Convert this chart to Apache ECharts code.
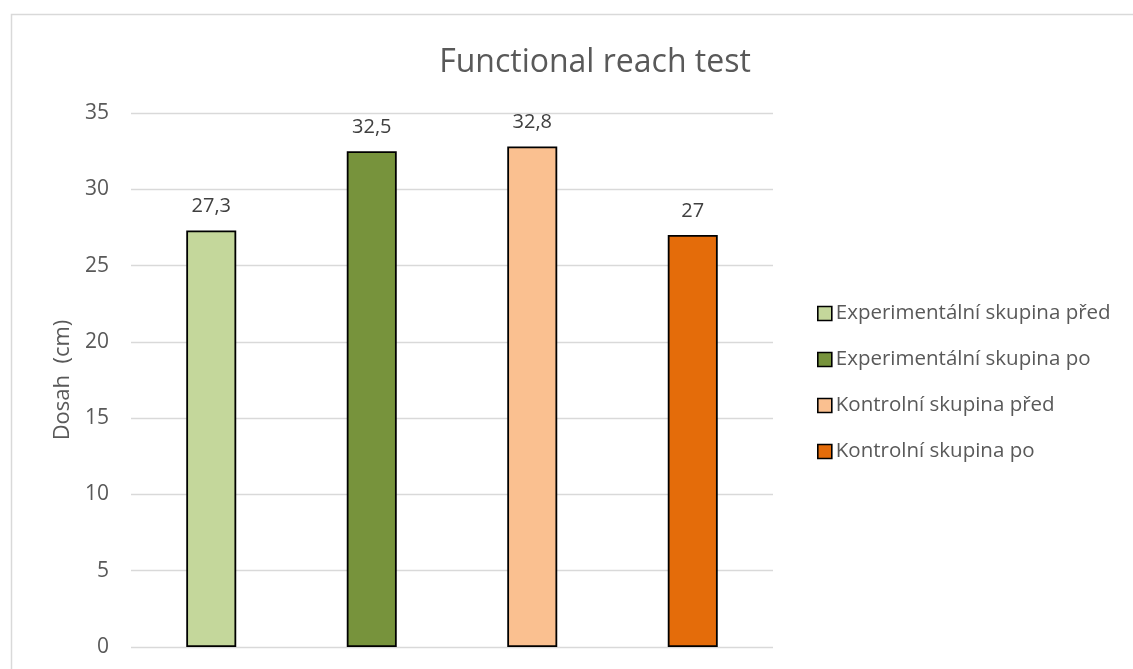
<!DOCTYPE html>
<html>
<head>
<meta charset="utf-8">
<script src="https://cdn.jsdelivr.net/npm/echarts@6/dist/echarts.min.js"></script>
<style>
  html, body { margin: 0; padding: 0; background: #fff; }
  #chart { width: 1133px; height: 669px; }
</style>
</head>
<body>
<div id="chart"></div>
<script>
// Group names (one bar per group) and the measured reach in cm
const groups = [
  'Experimentální skupina před',
  'Experimentální skupina po',
  'Kontrolní skupina před',
  'Kontrolní skupina po'
];
const reach = [27.3, 32.5, 32.8, 27];
const barColors = ['#c4d79b', '#77933c', '#fac090', '#e46c0a'];
const yTicks = { min: 0, max: 35, interval: 5 };

const FONT = '"Open Sans", "Noto Sans", sans-serif';
const fmt = v => String(v).replace('.', ',');

// One series per group so each gets its own legend entry; stacking keeps
// every bar centred in its own slot.
const series = groups.map((name, i) => ({
  name: name,
  type: 'bar',
  stack: 'all',
  barWidth: 50,
  data: reach.map((v, j) => (j === i ? v : '-')),
  itemStyle: { color: barColors[i], borderColor: '#000', borderWidth: 1.8 },
  label: {
    show: true,
    position: 'top',
    distance: 14,
    color: '#404040',
    fontFamily: FONT,
    fontSize: 20,
    formatter: p => fmt(p.value)
  }
}));

const chart = echarts.init(document.getElementById('chart'), null, { renderer: 'canvas' });
chart.setOption({
  animation: false,
  backgroundColor: '#fff',
  graphic: [{
    type: 'rect',
    shape: { x: 11.5, y: 14.5, width: 1200, height: 700 },
    style: { fill: 'none', stroke: '#d9d9d9', lineWidth: 1.5 },
    silent: true,
    z: -10
  }],
  title: {
    text: 'Functional reach test',
    left: 590,
    top: 42,
    textAlign: 'center',
    textStyle: { fontFamily: FONT, fontSize: 32, fontWeight: 'normal', color: '#595959' }
  },
  legend: {
    orient: 'vertical',
    left: 812,
    top: 298,
    itemWidth: 14,
    itemHeight: 14,
    itemGap: 25,
    icon: 'rect',
    itemStyle: { borderColor: '#000', borderWidth: 1.6 },
    textStyle: { fontFamily: FONT, fontSize: 20.5, color: '#595959', padding: [0, 0, 0, -1] },
    data: groups
  },
  grid: { left: 131, right: 360, top: 113, bottom: 22, containLabel: false },
  xAxis: {
    type: 'category',
    data: groups,
    axisLine: { show: false },
    axisTick: { show: false },
    axisLabel: { show: false },
    splitLine: { show: false }
  },
  yAxis: {
    type: 'value',
    min: yTicks.min,
    max: yTicks.max,
    interval: yTicks.interval,
    name: 'Dosah  (cm)',
    nameLocation: 'middle',
    nameGap: 56,
    nameTextStyle: { fontFamily: FONT, fontSize: 22, color: '#595959' },
    axisLine: { show: false },
    axisTick: { show: false },
    axisLabel: { fontFamily: FONT, fontSize: 21, color: '#595959', margin: 22 },
    splitLine: { lineStyle: { color: '#d9d9d9', width: 1.3 } }
  },
  series: series
});
</script>
</body>
</html>
